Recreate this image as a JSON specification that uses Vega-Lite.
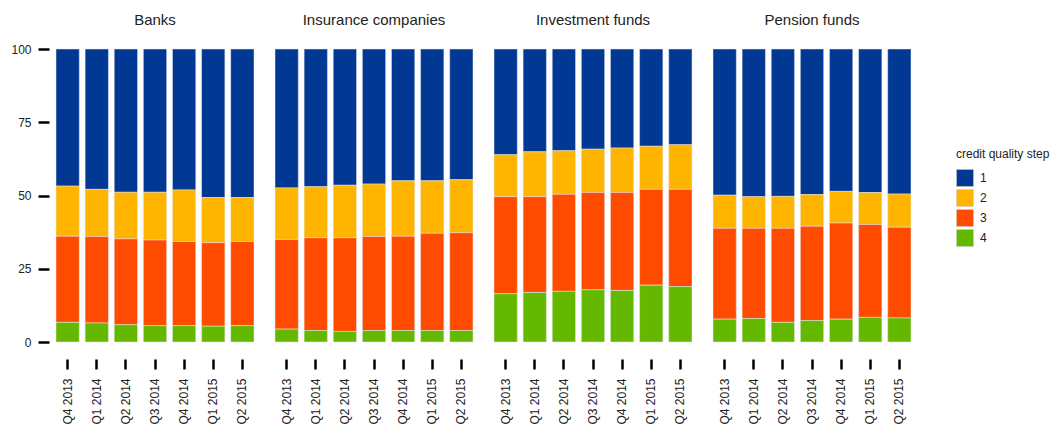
{
  "$schema": "https://vega.github.io/schema/vega-lite/v6.json",
  "padding": {"left": 10, "top": 13, "right": 0, "bottom": 0},
  "data": {
    "values": [
      {"sector": "Banks", "quarter": "Q4 2013", "4": 6.7, "3": 29.4, "2": 17.1, "1": 46.8},
      {"sector": "Banks", "quarter": "Q1 2014", "4": 6.5, "3": 29.5, "2": 16.1, "1": 47.9},
      {"sector": "Banks", "quarter": "Q2 2014", "4": 5.9, "3": 29.3, "2": 15.9, "1": 48.9},
      {"sector": "Banks", "quarter": "Q3 2014", "4": 5.6, "3": 29.2, "2": 16.3, "1": 48.9},
      {"sector": "Banks", "quarter": "Q4 2014", "4": 5.6, "3": 28.7, "2": 17.6, "1": 48.1},
      {"sector": "Banks", "quarter": "Q1 2015", "4": 5.4, "3": 28.5, "2": 15.4, "1": 50.7},
      {"sector": "Banks", "quarter": "Q2 2015", "4": 5.6, "3": 28.7, "2": 15.0, "1": 50.7},
      {"sector": "Insurance companies", "quarter": "Q4 2013", "4": 4.4, "3": 30.6, "2": 17.6, "1": 47.4},
      {"sector": "Insurance companies", "quarter": "Q1 2014", "4": 3.9, "3": 31.7, "2": 17.4, "1": 47.0},
      {"sector": "Insurance companies", "quarter": "Q2 2014", "4": 3.6, "3": 32.0, "2": 17.9, "1": 46.5},
      {"sector": "Insurance companies", "quarter": "Q3 2014", "4": 3.9, "3": 32.1, "2": 17.9, "1": 46.1},
      {"sector": "Insurance companies", "quarter": "Q4 2014", "4": 3.9, "3": 32.2, "2": 18.9, "1": 45.0},
      {"sector": "Insurance companies", "quarter": "Q1 2015", "4": 3.9, "3": 33.2, "2": 17.9, "1": 45.0},
      {"sector": "Insurance companies", "quarter": "Q2 2015", "4": 3.9, "3": 33.4, "2": 18.1, "1": 44.6},
      {"sector": "Investment funds", "quarter": "Q4 2013", "4": 16.5, "3": 33.1, "2": 14.3, "1": 36.1},
      {"sector": "Investment funds", "quarter": "Q1 2014", "4": 16.9, "3": 32.7, "2": 15.3, "1": 35.1},
      {"sector": "Investment funds", "quarter": "Q2 2014", "4": 17.3, "3": 33.1, "2": 14.9, "1": 34.7},
      {"sector": "Investment funds", "quarter": "Q3 2014", "4": 17.8, "3": 33.2, "2": 14.8, "1": 34.2},
      {"sector": "Investment funds", "quarter": "Q4 2014", "4": 17.6, "3": 33.4, "2": 15.2, "1": 33.8},
      {"sector": "Investment funds", "quarter": "Q1 2015", "4": 19.4, "3": 32.7, "2": 14.7, "1": 33.2},
      {"sector": "Investment funds", "quarter": "Q2 2015", "4": 18.9, "3": 33.2, "2": 15.2, "1": 32.7},
      {"sector": "Pension funds", "quarter": "Q4 2013", "4": 7.8, "3": 31.0, "2": 11.3, "1": 49.9},
      {"sector": "Pension funds", "quarter": "Q1 2014", "4": 8.0, "3": 30.8, "2": 10.8, "1": 50.4},
      {"sector": "Pension funds", "quarter": "Q2 2014", "4": 6.7, "3": 32.1, "2": 10.9, "1": 50.3},
      {"sector": "Pension funds", "quarter": "Q3 2014", "4": 7.3, "3": 32.2, "2": 10.8, "1": 49.7},
      {"sector": "Pension funds", "quarter": "Q4 2014", "4": 7.8, "3": 32.8, "2": 10.8, "1": 48.6},
      {"sector": "Pension funds", "quarter": "Q1 2015", "4": 8.4, "3": 31.7, "2": 10.9, "1": 49.0},
      {"sector": "Pension funds", "quarter": "Q2 2015", "4": 8.2, "3": 31.0, "2": 11.3, "1": 49.5}
    ]
  },
  "transform": [{"fold": ["1", "2", "3", "4"], "as": ["step", "value"]}],
  "facet": {
    "column": {
      "field": "sector",
      "type": "nominal",
      "sort": ["Banks", "Insurance companies", "Investment funds", "Pension funds"],
      "header": {"title": null, "labelFontSize": 15, "labelColor": "#222", "labelPadding": 20}
    }
  },
  "spacing": 19,
  "spec": {
    "width": 198,
    "height": 293,
    "mark": {"type": "bar", "stroke": "#e4e8f0", "strokeWidth": 0.5},
    "encoding": {
      "x": {
        "field": "quarter",
        "type": "nominal",
        "sort": ["Q4 2013", "Q1 2014", "Q2 2014", "Q3 2014", "Q4 2014", "Q1 2015", "Q2 2015"],
        "scale": {"paddingInner": 0.2, "paddingOuter": 0},
        "axis": {
          "title": null, "labelAngle": 270, "domain": false,
          "tickWidth": 2.5, "tickSize": 10, "tickColor": "#000",
          "offset": 16, "labelPadding": 9, "labelFontSize": 12, "labelColor": "#222"
        }
      },
      "y": {
        "field": "value",
        "type": "quantitative",
        "stack": "zero",
        "scale": {"domain": [0, 100], "nice": false},
        "axis": {
          "title": null, "values": [0, 25, 50, 75, 100], "grid": false, "domain": false,
          "tickWidth": 2.5, "tickSize": 11, "tickColor": "#000",
          "offset": 6, "labelPadding": 7, "labelFontSize": 12, "labelColor": "#222"
        }
      },
      "color": {
        "field": "step",
        "type": "nominal",
        "scale": {"domain": ["1", "2", "3", "4"], "range": ["#003894", "#FFB400", "#FF4B00", "#65B800"]},
        "legend": {
          "title": "credit quality step", "orient": "none", "legendX": 900, "legendY": 100,
          "titleFontSize": 12, "titleFontWeight": "normal", "titleColor": "#222", "titlePadding": 8,
          "symbolType": "square", "symbolSize": 289, "symbolStrokeColor": "#ccc", "symbolStrokeWidth": 0.5,
          "symbolOpacity": 1, "rowPadding": 0, "labelFontSize": 12, "labelColor": "#222", "labelOffset": 6
        }
      },
      "order": {"field": "step", "sort": "descending"}
    }
  },
  "config": {
    "font": "Liberation Sans",
    "view": {"stroke": null}
  }
}
